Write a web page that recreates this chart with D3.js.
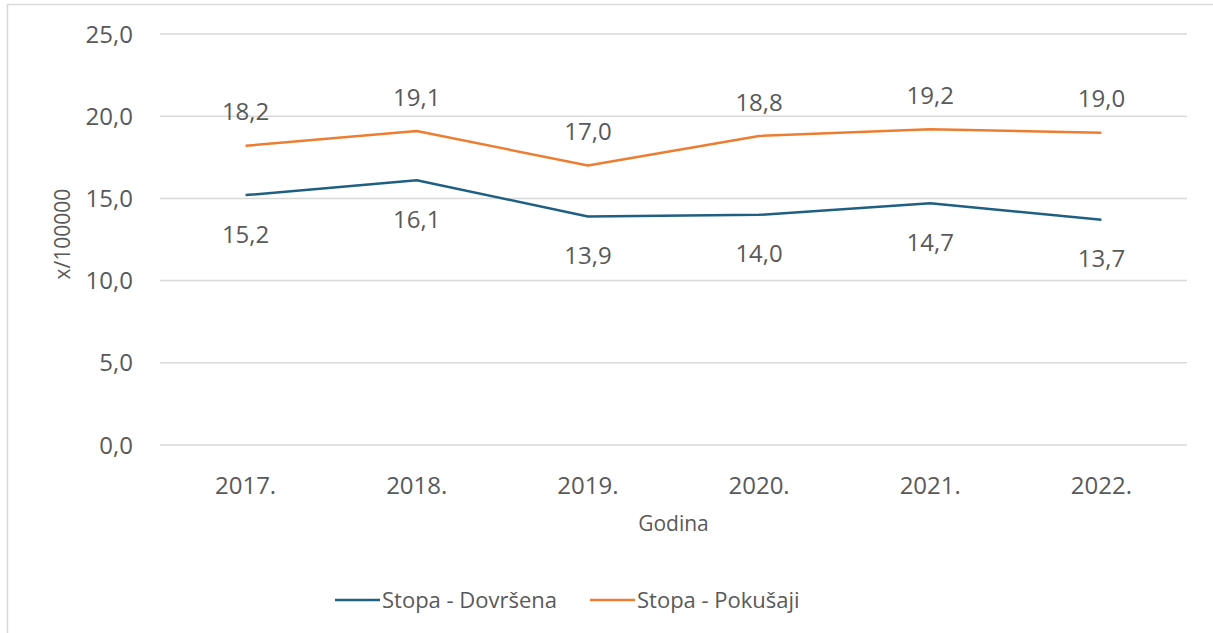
<!DOCTYPE html>
<html>
<head>
<meta charset="utf-8">
<script src="https://cdn.jsdelivr.net/npm/d3@7"></script>
<style>
  body { margin: 0; background: #fff; }
  svg text { font-family: "Open Sans", "Noto Sans", sans-serif; fill: #595959; }
</style>
</head>
<body>
<script>
"use strict";

// data
const years = ["2017.", "2018.", "2019.", "2020.", "2021.", "2022."];
const dovrsena = [15.2, 16.1, 13.9, 14.0, 14.7, 13.7];
const pokusaji = [18.2, 19.1, 17.0, 18.8, 19.2, 19.0];
const yTicks = [0, 5, 10, 15, 20, 25];

let w = 1213, h = 633;
let margin = {left: 160, right: 26};

let svg = d3.select("body").append("svg")
    .attr("width", w)
    .attr("height", h);

// chart border (cut off on right and bottom like in the screenshot)
svg.append("rect")
    .attr("x", 7.5).attr("y", 4.5)
    .attr("width", w + 20).attr("height", h + 20)
    .attr("fill", "none")
    .attr("stroke", "#d9d9d9")
    .attr("stroke-width", 1.5);

let x = d3.scaleBand().domain(years).range([margin.left, w - margin.right]);
// 0 at 445, 25 at 34
let y = d3.scaleLinear().domain([0, 25]).range([445, 34]);

let fmt = d => d.toFixed(1).replace(".", ",");

// gridlines
svg.append("g").selectAll("line")
    .data(yTicks)
    .enter()
    .append("line")
    .attr("x1", margin.left)
    .attr("x2", w - margin.right)
    .attr("y1", d => y(d))
    .attr("y2", d => y(d))
    .attr("stroke", "#d9d9d9")
    .attr("stroke-width", 1.5);

// y tick labels
svg.append("g").selectAll("text")
    .data(yTicks)
    .enter()
    .append("text")
    .attr("x", 133)
    .attr("y", d => y(d))
    .attr("dy", "0.36em")
    .attr("text-anchor", "end")
    .style("font-size", "24px")
    .text(fmt);

// x tick labels
svg.append("g").selectAll("text")
    .data(years)
    .enter()
    .append("text")
    .attr("x", d => x(d) + x.bandwidth() / 2)
    .attr("y", 485)
    .attr("dy", "0.36em")
    .attr("text-anchor", "middle")
    .style("font-size", "24px")
    .text(d => d);

// axis titles
svg.append("text")
    .attr("transform", "translate(62,234) rotate(-90)")
    .attr("text-anchor", "middle")
    .attr("dy", "0.36em")
    .style("font-size", "21px")
    .text("x/100000");

svg.append("text")
    .attr("x", (margin.left + w - margin.right) / 2)
    .attr("y", 523)
    .attr("dy", "0.36em")
    .attr("text-anchor", "middle")
    .style("font-size", "21px")
    .text("Godina");

let series = [
    {name: "Stopa - Dovršena", values: dovrsena, color: "#1F5F82", labelDy: 39},
    {name: "Stopa - Pokušaji", values: pokusaji, color: "#ED7D31", labelDy: -34}
];

let line = d3.line()
    .x((d, i) => x(years[i]) + x.bandwidth() / 2)
    .y(d => y(d));

series.forEach(function (s) {
    svg.append("path")
        .datum(s.values)
        .attr("d", line)
        .attr("fill", "none")
        .attr("stroke", s.color)
        .attr("stroke-width", 2.5)
        .attr("stroke-linejoin", "round");

    svg.append("g").selectAll("text")
        .data(s.values)
        .enter()
        .append("text")
        .attr("x", (d, i) => x(years[i]) + x.bandwidth() / 2)
        .attr("y", d => y(d) + s.labelDy)
        .attr("dy", "0.36em")
        .attr("text-anchor", "middle")
        .style("font-size", "24px")
        .text(fmt);
});

// legend
let legendX = [335, 590];
let legend = svg.append("g").selectAll("g")
    .data(series)
    .enter()
    .append("g")
    .attr("transform", (d, i) => "translate(" + legendX[i] + ",600)");

legend.append("line")
    .attr("x1", 0).attr("x2", 45)
    .attr("stroke", d => d.color)
    .attr("stroke-width", 2.5);

legend.append("text")
    .attr("x", 47)
    .attr("dy", "0.36em")
    .style("font-size", "22px")
    .text(d => d.name);
</script>
</body>
</html>
